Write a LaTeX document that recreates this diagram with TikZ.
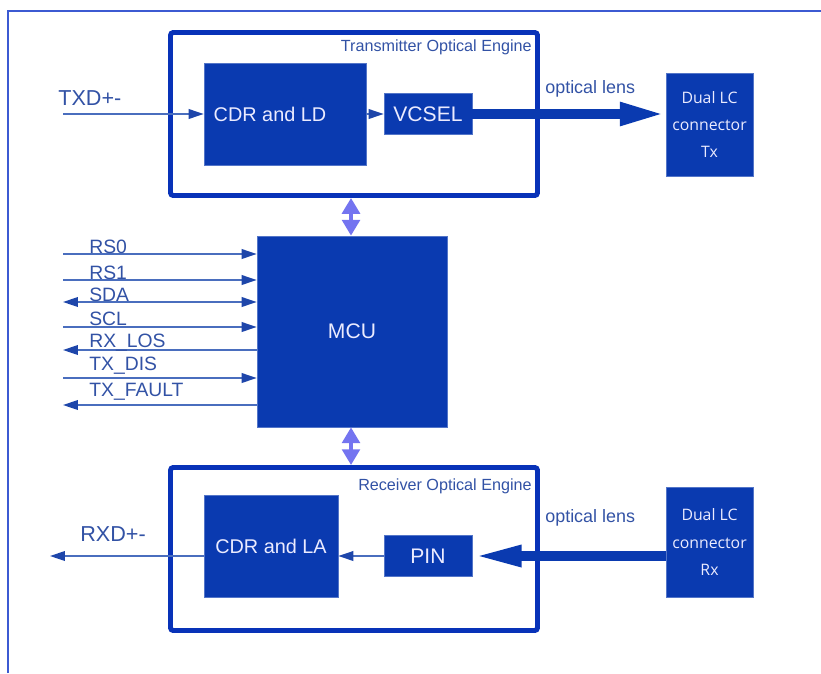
\documentclass[tikz,border=0pt]{standalone}
\usepackage{fontspec}
\setmainfont{Liberation Sans}
\newfontfamily\lcfont{Open Sans}
\usetikzlibrary{arrows.meta}

\definecolor{blockblue}{RGB}{10,58,176}
\definecolor{edgeblue}{RGB}{8,50,184}
\definecolor{labelblue}{RGB}{50,82,165}
\definecolor{wireblue}{RGB}{74,110,190}
\definecolor{tipblue}{RGB}{30,70,170}
\definecolor{busviolet}{RGB}{116,116,240}
\definecolor{framecol}{RGB}{60,90,210}

\tikzset{
  engine/.style={draw=edgeblue, line width=2.8pt, rounded corners=1.5pt,
    minimum width=7.34cm, minimum height=3.26cm, inner sep=0pt},
  block/.style={fill=blockblue, draw=blockblue!70!white, line width=0.4pt,
    text=blue!8!white, inner sep=0pt, align=center},
  signame/.style={text=labelblue, font=\fontsize{11}{12}\selectfont, anchor=base west, inner sep=0pt},
  wire/.style={draw=wireblue, line width=0.8pt},
  tipin/.style={-{Triangle[length=8.5pt,width=5.5pt,color=tipblue]}},
  tipout/.style={{Triangle[length=8.5pt,width=5.5pt,color=tipblue]}-},
  tipboth/.style={{Triangle[length=8.5pt,width=5.5pt,color=tipblue]}-{Triangle[length=8.5pt,width=5.5pt,color=tipblue]}},
  beam/.style={draw=blockblue, line width=5.7pt},
  bus/.style={draw=busviolet, line width=2.5pt,
    {Triangle[length=9pt,width=10pt]}-{Triangle[length=9pt,width=10pt]}}
}

\begin{document}
\begin{tikzpicture}[x=0.02cm,y=-0.02cm]
\useasboundingbox (0,0) rectangle (821,673);

% The frame
\draw[color=framecol, line width=0.9pt] (8,673) -- (8,11) -- (821,11);

% The optical engines
\node[engine] (txbox) at (354,114) {};
\node[engine] (rxbox) at (354,549) {};
\node[text=labelblue, font=\fontsize{9.2}{10}\selectfont, anchor=base east, inner sep=0pt] (txname) at (532,51) {Transmitter Optical Engine};
\node[text=labelblue, font=\fontsize{9.2}{10}\selectfont, anchor=base east, inner sep=0pt] (rxname) at (532,490) {Receiver Optical Engine};

% The blocks
\node[block, minimum width=3.24cm, minimum height=2.04cm, font=\fontsize{11.3}{12}\selectfont] (cdrld) at (285,114) {CDR and LD\hspace*{0.6cm}};
\node[block, minimum width=1.76cm, minimum height=0.82cm, font=\fontsize{12}{13}\selectfont] (vcsel) at (428,114) {VCSEL};
\node[block, minimum width=2.68cm, minimum height=2.04cm, font=\fontsize{11.3}{12}\selectfont] (cdrla) at (271,546) {CDR and LA};
\node[block, minimum width=1.76cm, minimum height=0.82cm, font=\fontsize{12}{13}\selectfont] (pin) at (428,556) {PIN};
\node[block, minimum width=3.8cm, minimum height=3.82cm, font=\fontsize{12}{13}\selectfont] (mcu) at (352,331.5) {MCU};
\node[block, minimum width=1.74cm, minimum height=2.06cm, font=\lcfont\fontsize{9}{15.5}\selectfont] (lctx) at (709.5,124.5) {Dual LC\\connector\\Tx};
\node[block, minimum width=1.74cm, minimum height=2.2cm, font=\lcfont\fontsize{9}{15.5}\selectfont] (lcrx) at (709.5,542) {Dual LC\\connector\\Rx};

% The data path
\coordinate (txdin) at (63,114);
\coordinate (rxdout) at (50,556);
\node[signame, font=\fontsize{12.3}{13}\selectfont] (txd) at (58,105) {TXD+-};
\node[signame, font=\fontsize{12.3}{13}\selectfont] (rxd) at (80,541) {RXD+-};
\draw[wire, tipin] (txdin) -- (cdrld.west |- txdin);
\draw[wire, tipin] (cdrld.east |- vcsel) -- (vcsel.west);
\draw[wire, tipin] (pin.west) -- (cdrla.east |- pin.west);
\draw[wire, tipin] (cdrla.west |- rxdout) -- (rxdout);

% The optical beams
\draw[beam, -{Triangle[length=26pt,width=12pt]}] (vcsel.east) -- (vcsel.east -| lctx.west);
\draw[beam, -{Triangle[length=28pt,width=11pt]}] (lcrx.west |- pin.east) -- (pin.east);
\node[text=labelblue, font=\fontsize{10.2}{11}\selectfont, anchor=base west, inner sep=0pt] (lenstx) at (545,93) {optical lens};
\node[text=labelblue, font=\fontsize{10.2}{11}\selectfont, anchor=base west, inner sep=0pt] (lensrx) at (545,522) {optical lens};

% The control bus
\draw[bus] (txbox.south -| 351,0) -- (mcu.north -| 351,0);
\draw[bus] (mcu.south -| 351,0) -- (rxbox.north -| 351,0);

% The management pins
\foreach \y/\name/\txt/\tips in {254/rs0/RS0/tipin, 280/rs1/RS1/tipin, 302/sda/SDA/tipboth,
    327/scl/SCL/tipin, 350/rxlos/RX\_LOS/tipout, 378/txdis/TX\_DIS/tipin, 405/txfault/TX\_FAULT/tipout}{
  \coordinate (\name) at (63,\y);
  \draw[wire, \tips] (\name) -- (mcu.west |- \name);
}
\node[signame] (rs0name) at (89,253) {RS0};
\node[signame] (rs1name) at (89,279) {RS1};
\node[signame] (sdaname) at (89,301) {SDA};
\node[signame] (sclname) at (89,325) {SCL};
\node[signame] (rxlosname) at (89,347) {RX\_LOS};
\node[signame] (txdisname) at (89,370) {TX\_DIS};
\node[signame] (txfaultname) at (89,396) {TX\_FAULT};

\end{tikzpicture}
\end{document}
